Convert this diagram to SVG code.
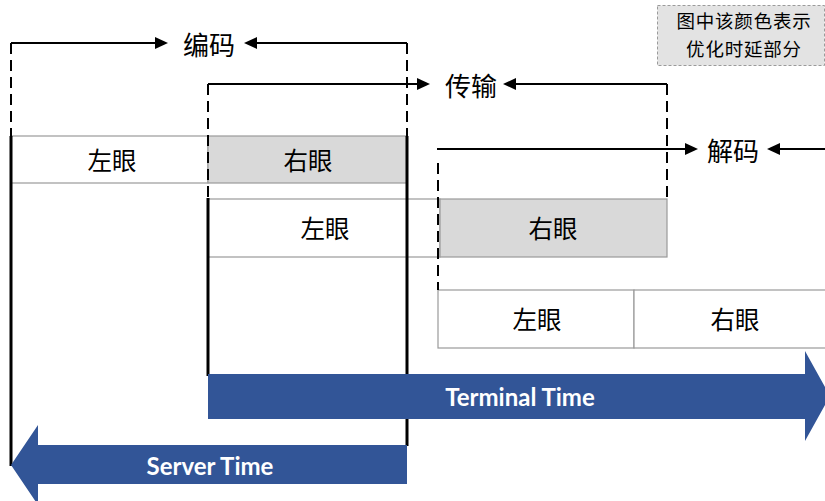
<svg xmlns="http://www.w3.org/2000/svg" width="825" height="501" viewBox="0 0 825 501">
  <style>
    .cjk { font-family: "Noto Sans CJK SC", "Noto Sans", sans-serif; fill: #000; text-anchor: middle; dominant-baseline: central; }
    .cell { stroke: #9a9a9a; stroke-width: 1.2; }
    .plain { fill: #ffffff; }
    .opt { fill: #d9d9d9; }
    .bound { stroke: #000; stroke-width: 3; fill: none; }
    .dash { stroke: #000; stroke-width: 2; stroke-dasharray: 11 6; fill: none; }
    .brk { stroke: #000; stroke-width: 2; fill: none; }
    .head { fill: #000; }
    .band { fill: #325597; }
    .bandtxt { font-family: "Lato", "Open Sans", sans-serif; font-weight: bold; font-size: 24px; fill: #ffffff; text-anchor: middle; dominant-baseline: central; }
  </style>

  <!-- legend: two-line note -->
  <g id="legend">
    <rect x="657.5" y="5.5" width="167" height="60" fill="#e3e3e3" stroke="#9a9a9a" stroke-width="1" stroke-dasharray="3 2"/>
    <text class="cjk" x="744" y="20" font-size="18.5" letter-spacing="0.8">图中该颜色表示</text>
    <text class="cjk" x="744" y="47.5" font-size="18.5" letter-spacing="0.8">优化时延部分</text>
  </g>

  <!-- server side frames -->
  <g id="row-server">
    <rect class="cell plain" x="11" y="136" width="197" height="47"/>
    <rect class="cell opt" x="208" y="136" width="199" height="47"/>
    <text class="cjk" x="112" y="159" font-size="24.5">左眼</text>
    <text class="cjk" x="308" y="159" font-size="24.5">右眼</text>
  </g>

  <!-- network frames -->
  <g id="row-network">
    <rect class="cell plain" x="208" y="199" width="232" height="58"/>
    <rect class="cell opt" x="440" y="199" width="227" height="58"/>
    <text class="cjk" x="325" y="227" font-size="24.5">左眼</text>
    <text class="cjk" x="553" y="227" font-size="24.5">右眼</text>
  </g>

  <!-- terminal frames -->
  <g id="row-terminal">
    <rect class="cell plain" x="438" y="290" width="196" height="58"/>
    <rect class="cell plain" x="634" y="290" width="200" height="58"/>
    <text class="cjk" x="537" y="318" font-size="24.5">左眼</text>
    <text class="cjk" x="735" y="318" font-size="24.5">右眼</text>
  </g>

  <!-- time boundaries -->
  <g id="boundaries">
    <line class="bound" x1="11" y1="136" x2="11" y2="466"/>
    <line class="bound" x1="208" y1="198" x2="208" y2="376"/>
    <line class="bound" x1="407" y1="136" x2="407" y2="446"/>
  </g>

  <!-- terminal time band -->
  <g id="terminal-time">
    <polygon class="band" points="208,374 805,374 805,351 830,396 805,441 805,419 208,419"/>
    <text class="bandtxt" x="520" y="396">Terminal Time</text>
  </g>

  <!-- server time band -->
  <g id="server-time">
    <polygon class="band" points="407,445 38,445 38,425 11,465 38,505 38,484 407,484"/>
    <text class="bandtxt" x="210" y="465">Server Time</text>
  </g>

  <!-- stage brackets -->
  <g id="connectors">
    <!-- encoding -->
    <path class="dash" d="M11,43 V136"/>
    <path class="dash" d="M407,43 V136"/>
    <path class="brk" d="M11,43 H156"/>
    <polygon class="head" points="155,37 168,43 155,49"/>
    <path class="brk" d="M256,43 H407"/>
    <polygon class="head" points="257,37 244,43 257,49"/>
    <!-- transmission -->
    <path class="dash" d="M208,84 V199"/>
    <path class="dash" d="M667,84 V199"/>
    <path class="brk" d="M208,84 H418"/>
    <polygon class="head" points="417,78 430,84 417,90"/>
    <path class="brk" d="M515,84 H667"/>
    <polygon class="head" points="516,78 503,84 516,90"/>
    <!-- decoding -->
    <path class="dash" d="M438,163 V290"/>
    <path class="brk" d="M437,149 H686"/>
    <polygon class="head" points="685,143 698,149 685,155"/>
    <path class="brk" d="M779,149 H825"/>
    <polygon class="head" points="780,143 767,149 780,155"/>
  </g>

  <g id="stage-labels">
    <text class="cjk" x="209" y="43" font-size="26">编码</text>
    <text class="cjk" x="471" y="84" font-size="26">传输</text>
    <text class="cjk" x="733" y="149" font-size="26">解码</text>
  </g>
</svg>
